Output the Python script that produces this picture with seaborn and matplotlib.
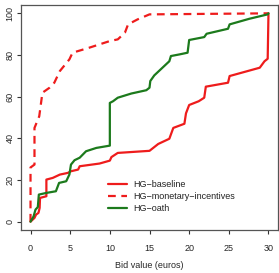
import numpy as np
import pandas as pd
import matplotlib
matplotlib.use("Agg")
import matplotlib.pyplot as plt
import seaborn as sns

series_names = ["HG\u2212baseline", "HG\u2212monetary\u2212incentives", "HG\u2212oath"]

baseline_x = [0, 0.5, 0.7, 1.0, 1.15, 1.2, 2.0, 2.0, 2.8, 3.7, 4.7, 5.1, 6.0, 6.2, 8.7, 10.0, 10.2, 11.0,
              15.0, 16.1, 17.5, 18.0, 19.4, 19.6, 20.0, 21.2, 21.9, 22.1, 24.9, 25.1, 28.9, 29.5, 29.9, 30.0]
baseline_y = [0, 1.8, 3.4, 4.2, 6.6, 11.4, 12.2, 20.2, 21, 22.6, 23.4, 24.2, 25, 26.6, 27.9, 29.3, 31, 33,
              34, 37.3, 39.8, 45, 47, 52, 56, 57.8, 59.5, 64.8, 66.7, 69.9, 73.9, 77, 78.2, 100]

monetary_x = [0, 0, 0.5, 0.5, 1.1, 1.5, 2.4, 3.0, 3.7, 4.9, 5.3, 7.4, 10.0, 11.0, 11.9, 12.3, 13.5, 15, 30]
monetary_y = [0, 26, 27.4, 45, 50.6, 61.9, 64.3, 66.7, 72.3, 77.9, 81.1, 83.5, 86.7, 87.5, 90.7, 94.7, 97.1, 99.5, 100]

oath_x = [0, 0.38, 0.63, 0.92, 1.05, 2.0, 3.2, 3.6, 4.5, 4.9, 5.1, 5.55, 6.2, 7.0, 8.3, 10.0, 10.0, 10.4, 11.0,
          12.7, 14.6, 15.0, 15.1, 15.6, 17.5, 17.7, 18.8, 19.8, 20.0, 21.9, 22.2, 24.9, 25.1, 27.6, 29.9, 30.0]
oath_y = [0, 2.5, 5.8, 7, 13, 13.8, 14.6, 18.6, 19.4, 22.6, 27.4, 29.5, 30.7, 33.8, 35.4, 36.5, 57, 57.8, 59.5,
          61.5, 63.1, 64.3, 67.5, 70.2, 77, 79.5, 80.3, 81.1, 87.2, 88.6, 90.2, 92.6, 94.7, 97.4, 99.5, 100]

x_ticks = [0, 5, 10, 15, 20, 25, 30]
y_ticks = [0, 20, 40, 60, 80, 100]

frames = []
for name, xs, ys in zip(series_names, [baseline_x, monetary_x, oath_x], [baseline_y, monetary_y, oath_y]):
    frames.append(pd.DataFrame({"bid": xs, "pct": ys, "group": name, "order": range(len(xs))}))
df = pd.concat(frames, ignore_index=True)

sns.set_style("white")
plt.rcParams["font.family"] = ["Liberation Sans", "DejaVu Sans"]

fig = plt.figure(figsize=(2.79, 2.73), dpi=100)
ax = fig.add_axes([21/279, 1 - 230/273, 257/279, 225/273])

palette = {series_names[0]: "#ee1c1c", series_names[1]: "#ee1c1c", series_names[2]: "#1c7a1c"}
dashes = {series_names[0]: "", series_names[1]: (3.5, 2.5), series_names[2]: ""}
sns.lineplot(data=df, x="bid", y="pct", hue="group", style="group", palette=palette, dashes=dashes,
             units="group", estimator=None, sort=False, linewidth=1.6, ax=ax, legend=True)

ax.set_xlim(-1.2, 31.2)
ax.set_ylim(-4, 104)
ax.set_xticks(x_ticks)
ax.set_yticks(y_ticks)
ax.set_xticklabels([str(v) for v in x_ticks], fontsize=6.5)
ax.set_yticklabels([str(v) for v in y_ticks], fontsize=6.5, rotation=90, va="center")
ax.tick_params(axis="both", direction="out", length=3, width=0.8, color="#333333",
               bottom=True, left=True)
ax.tick_params(axis="x", pad=7)
ax.tick_params(axis="y", pad=1.5)
for s in ax.spines.values():
    s.set_color("#555555")
    s.set_linewidth(0.9)
ax.set_xlabel("Bid value (euros)", fontsize=6.5, labelpad=6)
ax.set_ylabel("")

handles, labels = ax.get_legend_handles_labels()
leg = ax.legend(handles, labels, loc="upper left", bbox_to_anchor=(108/279, 1 - 180/273),
                bbox_transform=fig.transFigure, frameon=False, fontsize=6.5,
                handlelength=2.1, handletextpad=0.7, labelspacing=0.35, borderpad=0, borderaxespad=0)
for t in leg.get_texts():
    t.set_color("#222222")

fig.savefig("out.png", dpi=100)
